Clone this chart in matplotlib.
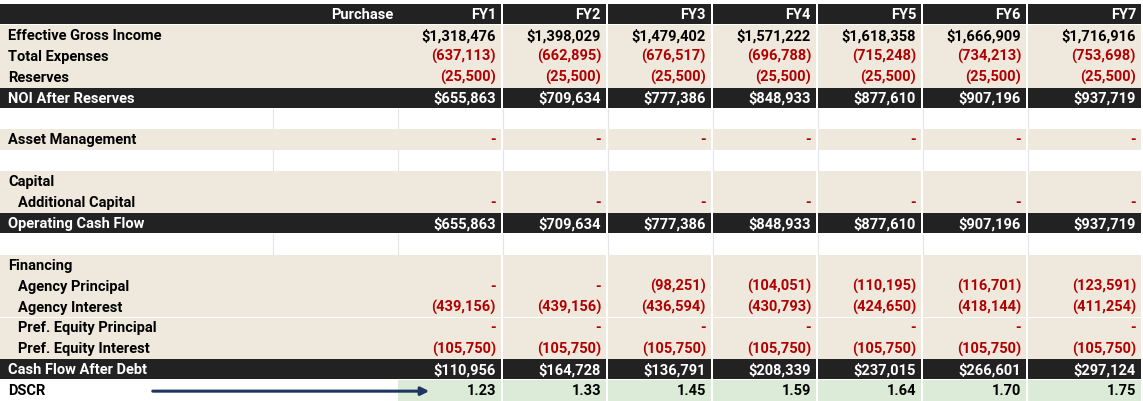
import matplotlib
matplotlib.use("agg")
import matplotlib.pyplot as plt
from matplotlib.patches import Rectangle

plt.rcParams['font.family'] = ['Roboto', 'DejaVu Sans']

years = ['FY1', 'FY2', 'FY3', 'FY4', 'FY5', 'FY6', 'FY7']
egi = [1318476, 1398029, 1479402, 1571222, 1618358, 1666909, 1716916]
expenses = [-637113, -662895, -676517, -696788, -715248, -734213, -753698]
reserves = [-25500] * 7
noi = [655863, 709634, 777386, 848933, 877610, 907196, 937719]
asset_mgmt = [0] * 7
add_capital = [0] * 7
op_cf = [655863, 709634, 777386, 848933, 877610, 907196, 937719]
agency_principal = [0, 0, -98251, -104051, -110195, -116701, -123591]
agency_interest = [-439156, -439156, -436594, -430793, -424650, -418144, -411254]
pref_principal = [0] * 7
pref_interest = [-105750] * 7
cf_after_debt = [110956, 164728, 136791, 208339, 237015, 266601, 297124]
dscr = [1.23, 1.33, 1.45, 1.59, 1.64, 1.70, 1.75]

# (label, values, style, indent, dollar)
rows = [
    ('', years, 'header', 0, False),
    ('Effective Gross Income', egi, 'beige', 0, True),
    ('Total Expenses', expenses, 'beige', 0, False),
    ('Reserves', reserves, 'beige', 0, False),
    ('NOI After Reserves', noi, 'dark', 0, True),
    ('', None, 'blank', 0, False),
    ('Asset Management', asset_mgmt, 'beige', 0, False),
    ('', None, 'blank', 0, False),
    ('Capital', None, 'beige', 0, False),
    ('Additional Capital', add_capital, 'beige', 1, False),
    ('Operating Cash Flow', op_cf, 'dark', 0, True),
    ('', None, 'blank', 0, False),
    ('Financing', None, 'beige', 0, False),
    ('Agency Principal', agency_principal, 'beige', 1, False),
    ('Agency Interest', agency_interest, 'beige', 1, False),
    ('Pref. Equity Principal', pref_principal, 'beige', 1, False),
    ('Pref. Equity Interest', pref_interest, 'beige', 1, False),
    ('Cash Flow After Debt', cf_after_debt, 'dark', 0, True),
    ('DSCR', dscr, 'dscr', 0, False),
]

DARK = '#222222'
BEIGE = '#efe8dd'
GREEN = '#dcebd8'
RED = '#b00000'
FS = 10.5

W, H = 1143, 401
fig = plt.figure(figsize=(W / 100, H / 100), dpi=100)
ax = fig.add_axes([0, 0, 1, 1])
ax.set_xlim(0, W)
ax.set_ylim(H, 0)
ax.axis('off')

top, rh = 4, 20.9
col_edges = [398, 503, 608, 713, 818, 923, 1028, 1143]
gap = 2.5


def fmt(v, dollar):
    if isinstance(v, float):
        return f'{v:.2f}'
    if v == 0:
        return '-'
    if v < 0:
        return f'({-v:,})'
    return f'${v:,}' if dollar else f'{v:,}'


for i, (label, vals, style, indent, dollar) in enumerate(rows):
    y0 = top + i * rh
    yc = y0 + rh / 2 + 0.5
    if style in ('header', 'beige', 'dark'):
        fc = BEIGE if style == 'beige' else DARK
        hh = rh if style == 'beige' else rh - 0.8
        ax.add_patch(Rectangle((0, y0), col_edges[1] - gap, hh, fc=fc, ec='none', zorder=1))
        for a, b in zip(col_edges[1:-1], col_edges[2:]):
            ax.add_patch(Rectangle((a, y0), b - a - gap, hh, fc=fc, ec='none', zorder=1))
    elif style == 'dscr':
        for a, b in zip(col_edges[:-1], col_edges[1:]):
            ax.add_patch(Rectangle((a, y0), b - a - gap, rh, fc=GREEN, ec='none', zorder=1))
        ax.annotate('', xy=(432, yc), xytext=(150, yc),
                    arrowprops=dict(arrowstyle='-|>', color='#1f3461', lw=2.2, mutation_scale=12), zorder=3)
    elif style == 'blank':
        for x in [273, 398] + col_edges[1:-1]:
            ax.plot([x, x], [y0, y0 + rh], color='#e4e4e4', lw=0.8, zorder=0)

    light = style in ('header', 'dark')
    tc = 'white' if light else 'black'
    if label:
        ax.text(8 + indent * 10, yc, label, ha='left', va='center', fontsize=FS,
                fontweight='bold', color=tc, zorder=4)
    if style == 'header':
        ax.text(393, yc, 'Purchase', ha='right', va='center', fontsize=FS,
                fontweight='bold', color='white', zorder=4)
    if vals is None:
        continue
    for j, v in enumerate(vals):
        xr = col_edges[j + 1] - 7
        if style == 'header':
            s, c = v, 'white'
        else:
            s = fmt(v, dollar)
            c = tc
            if not light and (s == '-' or (isinstance(v, int) and v < 0)):
                c = RED
        ax.text(xr, yc, s, ha='right', va='center', fontsize=FS,
                fontweight='bold', color=c, zorder=4)

fig.savefig('out.png', dpi=100)
